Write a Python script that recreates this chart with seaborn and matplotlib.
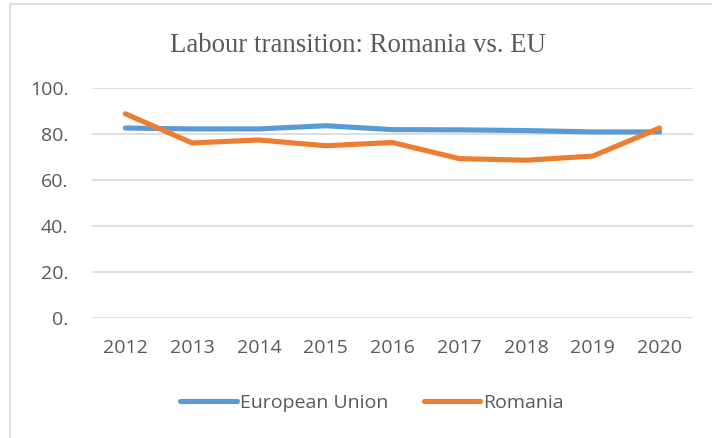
import matplotlib
matplotlib.use("Agg")
import matplotlib.pyplot as plt
import seaborn as sns
import pandas as pd
from matplotlib.patches import Rectangle
from matplotlib.ticker import FuncFormatter

years = ["2012", "2013", "2014", "2015", "2016", "2017", "2018", "2019", "2020"]
eu_values = [82.6, 82.2, 82.2, 83.6, 81.9, 81.8, 81.5, 80.9, 80.9]
ro_values = [88.8, 76.1, 77.4, 74.9, 76.3, 69.3, 68.6, 70.4, 82.6]
series_names = ["European Union", "Romania"]
y_ticks = [0, 20, 40, 60, 80, 100]

df = pd.DataFrame({
    "year": years * 2,
    "value": eu_values + ro_values,
    "series": [series_names[0]] * len(years) + [series_names[1]] * len(years),
})

sns.set_theme(style="white")
plt.rcParams["font.family"] = ["Open Sans", "DejaVu Sans"]

fig = plt.figure(figsize=(7.12, 4.38), dpi=100)
ax = fig.add_axes([92 / 712, 1 - 318 / 438, (693 - 92) / 712, (318 - 88) / 438])

palette = {"European Union": "#5B9BD5", "Romania": "#ED7D31"}
sns.lineplot(data=df, x="year", y="value", hue="series", palette=palette,
             linewidth=3.7, ax=ax, sort=False, legend=True)
for ln in ax.get_lines():
    ln.set_solid_capstyle("round")
    ln.set_solid_joinstyle("round")

ax.set_ylim(0, 100)
ax.set_xlim(-0.5, len(years) - 0.5)
ax.set_yticks(y_ticks)
ax.yaxis.set_major_formatter(FuncFormatter(lambda v, p: f"{int(v)}."))
ax.grid(axis="y", color="#D9D9D9", linewidth=1.2)
ax.grid(axis="x", visible=False)
ax.set_axisbelow(True)
for s in ax.spines.values():
    s.set_visible(False)
ax.tick_params(axis="both", length=0, labelsize=14, labelcolor="#595959")
ax.tick_params(axis="y", pad=17)
ax.tick_params(axis="x", pad=15)
ax.set_xlabel("")
ax.set_ylabel("")

fig.text(358 / 712, 1 - 45 / 438, "Labour transition: Romania vs. EU",
         family=["Liberation Serif", "DejaVu Serif"], fontsize=19.3,
         color="#595959", ha="center", va="center")

handles, labels = ax.get_legend_handles_labels()
ax.legend(handles, labels, loc="center", bbox_to_anchor=(372 / 712, 1 - 403 / 438),
          bbox_transform=fig.transFigure, ncol=2, frameon=False,
          fontsize=14, labelcolor="#595959", handlelength=2.9,
          handletextpad=0.15, columnspacing=1.85)

fig.patches.append(Rectangle((10 / 712, -0.01), 1.0, 1 - 4 / 438 + 0.01,
                             transform=fig.transFigure, fill=False,
                             edgecolor="#D9D9D9", linewidth=1.2))

fig.savefig("out.png", dpi=100)
